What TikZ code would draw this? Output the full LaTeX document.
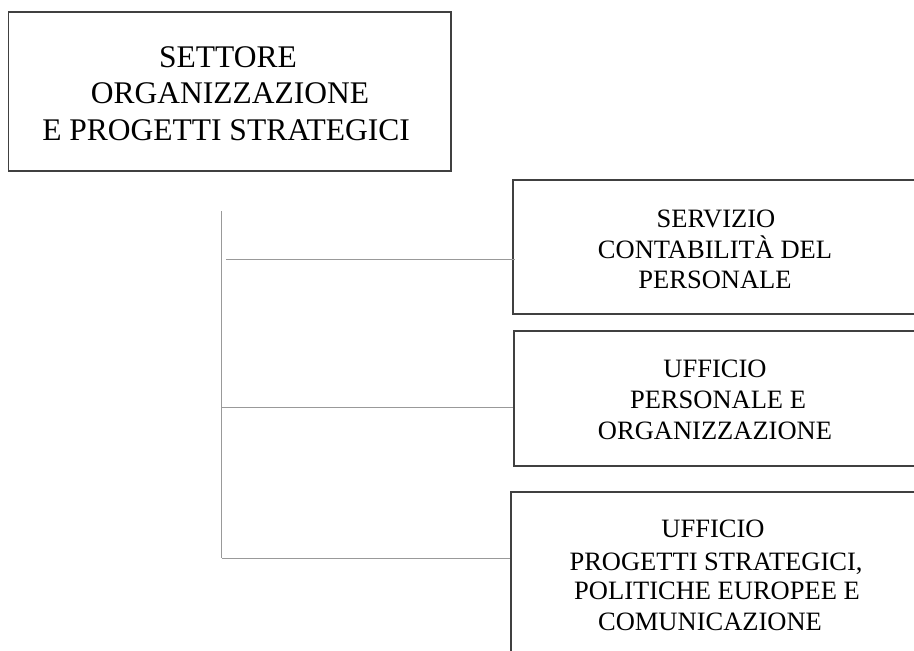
\documentclass[tikz,border=0pt]{standalone}
\usepackage{fontspec}
\setmainfont{Liberation Serif}
\begin{document}
\begin{tikzpicture}[x=1pt,y=-1pt,
  boxst/.style={draw=black!75, line width=1.3pt, rectangle, inner sep=0pt},
  conn/.style={draw=black!40, line width=1pt},
  bigtxt/.style={font=\fontsize{31.5}{36}\selectfont, anchor=base, inner sep=0pt},
  smalltxt/.style={font=\fontsize{26.5}{32}\selectfont, anchor=base, inner sep=0pt}]
\useasboundingbox (0,0) rectangle (914,651);
\clip (0,0) rectangle (914,651);
% boxes
\node[boxst, minimum width=442.5pt, minimum height=159pt] (top) at (229.75,91.5) {};
\node[boxst, minimum width=410pt, minimum height=134pt] (b1) at (718,247) {};
\node[boxst, minimum width=410pt, minimum height=135pt] (b2) at (719,398.5) {};
\node[boxst, minimum width=410pt, minimum height=220pt] (b3) at (716,602) {};
% texts
\node[bigtxt] (t1) at (228,67.7) {SETTORE};
\node[bigtxt] (t2) at (230,103) {ORGANIZZAZIONE};
\node[bigtxt] (t3) at (226,140) {E PROGETTI STRATEGICI};
\node[smalltxt] (s11) at (716,227) {SERVIZIO};
\node[smalltxt] (s12) at (715,258) {CONTABILITÀ DEL};
\node[smalltxt] (s13) at (715,288) {PERSONALE};
\node[smalltxt] (s21) at (715,377) {UFFICIO};
\node[smalltxt] (s22) at (718,408) {PERSONALE E};
\node[smalltxt] (s23) at (715,439) {ORGANIZZAZIONE};
\node[smalltxt] (s31) at (713,537) {UFFICIO};
\node[smalltxt] (s32) at (716,570) {PROGETTI STRATEGICI,};
\node[smalltxt] (s33) at (717,599.5) {POLITICHE EUROPEE E};
\node[smalltxt] (s34) at (710,630) {COMUNICAZIONE};
% connectors
\coordinate (stemtop) at (221.5,211);
\coordinate (stembot) at (221.5,558);
\coordinate (h1) at (226,259);
\coordinate (h2) at (221.5,407);
\draw[conn] (stemtop) -- (stembot);
\draw[conn] (h1) -- ([xshift=3pt]h1 -| b1.west);
\draw[conn] (h2) -- (h2 -| b2.west);
\draw[conn] (stembot) -- (stembot -| b3.west);
\end{tikzpicture}
\end{document}
